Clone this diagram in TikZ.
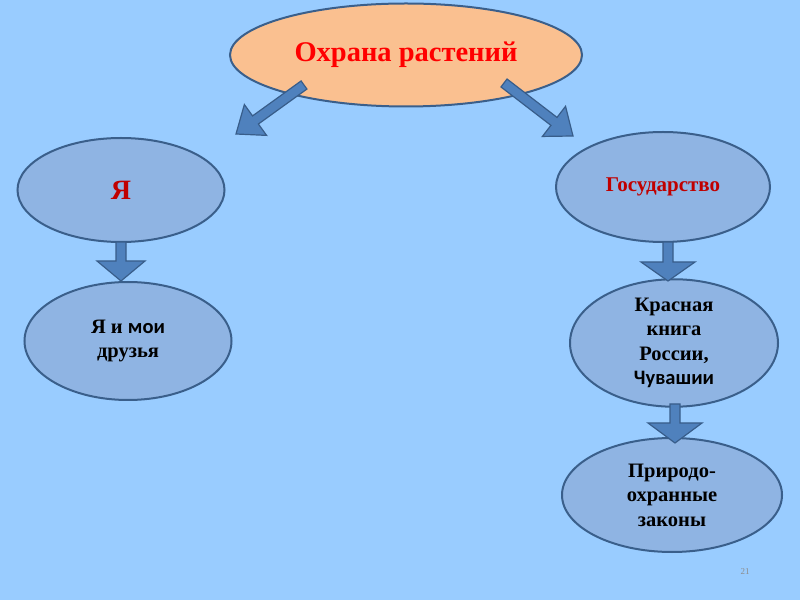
\documentclass[tikz,border=0pt]{standalone}
\usepackage{fontspec}
\setmainfont{Liberation Serif}
\newfontfamily\sansb{Carlito}
\usetikzlibrary{calc,shapes.geometric}
\definecolor{bgblue}{RGB}{153,204,255}
\definecolor{ellfill}{RGB}{143,180,227}
\definecolor{ellline}{RGB}{58,95,139}
\definecolor{peach}{RGB}{250,192,144}
\definecolor{arrfill}{RGB}{79,129,189}
\definecolor{arrline}{RGB}{56,93,138}
\definecolor{darkred}{RGB}{192,0,0}
\definecolor{pagegrey}{RGB}{140,140,140}
\tikzset{
  oval/.style={ellipse, draw=ellline, line width=2pt, fill=ellfill, inner sep=0pt, align=center, font=\bfseries\fontsize{20.5}{24.5}\selectfont},
  blockarr/.style={draw=arrline, line width=1.2pt, fill=arrfill, line join=miter}
}
\newcommand{\blockarrow}[5]{%
  \coordinate (H) at ($(#2)!#5!(#1)$);
  \draw[blockarr] ($(#1)!#3!90:(#2)$) -- ($(H)!#3!-90:(#1)$) -- ($(H)!#4!-90:(#1)$) -- (#2)
     -- ($(H)!#4!90:(#1)$) -- ($(H)!#3!90:(#1)$) -- ($(#1)!#3!-90:(#2)$) -- cycle;}
\begin{document}
\begin{tikzpicture}[x=1pt,y=1pt]
\fill[bgblue] (0,0) rectangle (800,600);
\useasboundingbox (0,0) rectangle (800,600);
% top
\node[oval, fill=peach, minimum width=352pt, minimum height=103pt, text=red, font=\bfseries\fontsize{28.5}{32}\selectfont] (top) at (406,545) {Охрана растений};
% left column
\node[oval, minimum width=207pt, minimum height=104pt, text=darkred, font=\bfseries\fontsize{28}{32}\selectfont] (ya) at (121,410) {Я};
\node[oval, minimum width=207pt, minimum height=118pt] (friends) at (128,259) {Я и {\sansb мои}\\друзья};
% right column
\node[oval, minimum width=214pt, minimum height=110pt, text=darkred, font=\bfseries\fontsize{21}{24}\selectfont] (gos) at (663,413) {Государство};
\node[oval, minimum width=208pt, minimum height=122pt] (book) at (674,257) {Красная\\книга\\России,\\{\sansb Чувашии}};
\node[oval, minimum width=220pt, minimum height=114pt] (laws) at (672,105) {Природо-\\охранные\\законы};
\node[text=pagegrey, font=\fontsize{9}{10}\selectfont] (page) at (745,28) {21};
% arrows
\coordinate (a1s) at (304,515);
\coordinate (a1e) at (236,466);
\coordinate (a2s) at (504,517);
\coordinate (a2e) at (573,464);
\blockarrow{a1s}{a1e}{5pt}{19pt}{24pt}
\blockarrow{a2s}{a2e}{5pt}{19pt}{24pt}
\coordinate (d1s) at ($(ya.south)+(0,1)$);
\coordinate (d1e) at (d1s |- friends.north);
\blockarrow{d1s}{d1e}{5pt}{24pt}{20pt}
\coordinate (d2s) at ($(gos.south)+(5,1)$);
\coordinate (d2e) at (668,319);
\blockarrow{d2s}{d2e}{5pt}{27pt}{19pt}
\coordinate (d3s) at (675,196);
\coordinate (d3e) at (675,157);
\blockarrow{d3s}{d3e}{5pt}{27pt}{20pt}
\end{tikzpicture}
\end{document}
